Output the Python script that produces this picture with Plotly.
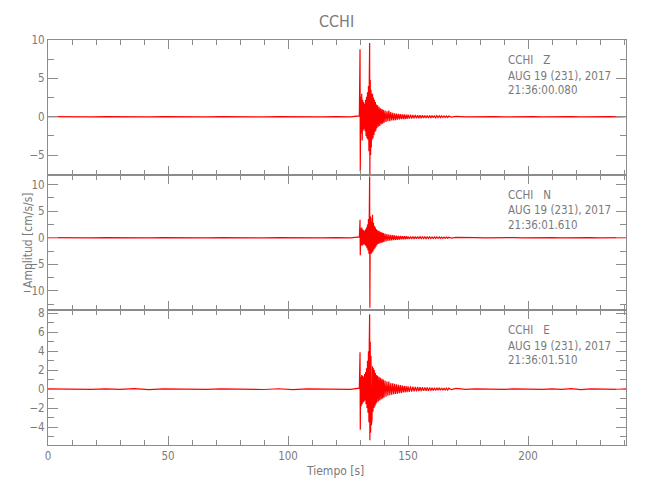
import plotly.graph_objects as go
from plotly.subplots import make_subplots

# ---- data ----
station = "CCHI"
components = ["Z", "N", "E"]
date_label = "AUG 19 (231), 2017"
start_times = ["21:36:00.080", "21:36:01.610", "21:36:01.510"]

t = [
    0, 6, 12, 18, 24, 30, 36, 42, 48, 54,
    60, 66, 72, 78, 84, 90, 96, 102, 108, 114,
    120, 126, 129.7, 130.0, 130.1, 130.3, 130.5, 130.7, 130.9, 131.1,
    131.3, 131.5, 131.7, 131.9, 132.1, 132.3, 132.5, 132.7, 132.9, 133.1,
    133.3, 133.5, 133.7, 133.85, 134.0, 134.1, 134.25, 134.4, 134.55, 134.7,
    134.85, 135.0, 135.2, 135.4, 135.6, 135.8, 136.0, 136.2, 136.4, 136.6,
    136.8, 137.0, 137.3, 137.6, 137.9, 138.2, 138.5, 138.8, 139.1, 139.4,
    139.7, 140.0, 140.4, 140.8, 141.2, 141.6, 142.0, 142.4, 142.8, 143.2,
    143.6, 144.0, 144.4, 144.8, 145.2, 145.6, 146.0, 146.4, 146.8, 147.2,
    147.6, 148.0, 148.4, 148.8, 149.2, 149.6, 150.0, 150.5, 151.0, 151.5,
    152.0, 152.5, 153.0, 153.5, 154.0, 154.5, 155.0, 155.5, 156.0, 156.5,
    157.0, 157.5, 158.0, 158.5, 159.0, 159.5, 160.0, 160.5, 161.0, 161.5,
    162.0, 162.5, 163.0, 163.5, 164.0, 164.5, 165.0, 165.5, 166.0, 166.5,
    167, 168, 170, 174, 178, 182, 186, 190, 194, 198,
    202, 206, 210, 214, 218, 222, 226, 230, 234, 238,
    240.8,
]

amp_z = [
    0.02, -0.02, 0.02, -0.02, 0.02, -0.02, 0.02, -0.02, 0.02, -0.02,
    0.02, -0.02, 0.02, -0.02, 0.02, -0.02, 0.02, -0.02, 0.02, -0.02,
    0.02, -0.02, 0.1, 8.8, -7.1, 2.6, -2.2, 3.0, -3.1, 2.2,
    -1.8, 1.9, -1.6, 1.7, -1.9, 2.2, -2.5, 2.6, -2.8, 3.2,
    -3.0, 4.0, -4.5, 5.0, 9.6, -7.5, 4.8, -5.0, 3.5, -4.0,
    3.0, -3.0, 3.0, -2.8, 2.5, -2.4, 2.2, -2.0, 1.9, -1.8,
    1.6, -1.5, 1.5, -1.3, 1.3, -1.2, 1.1, -1.0, 1.0, -0.9,
    0.9, -0.8, 0.8, -0.7, 0.7, -0.6, 0.8, -0.6, 0.6, -0.5,
    0.5, -0.5, 0.45, -0.45, 0.4, -0.4, 0.38, -0.35, 0.35, -0.33,
    0.32, -0.3, 0.3, -0.3, 0.28, -0.27, 0.26, -0.25, 0.25, -0.24,
    0.23, -0.22, 0.22, -0.21, 0.2, -0.2, 0.2, -0.19, 0.18, -0.18,
    0.17, -0.17, 0.16, -0.16, 0.15, -0.15, 0.15, -0.14, 0.14, -0.13,
    0.13, -0.12, 0.12, -0.12, 0.11, -0.11, 0.1, -0.1, 0.1, -0.1,
    0.08, -0.05, 0.03, -0.02, 0.02, -0.02, 0.02, -0.02, 0.02, -0.02,
    0.02, -0.02, 0.02, -0.02, 0.02, -0.02, 0.02, -0.02, 0.02, -0.02,
    0.02,
]

amp_n = [
    0.03, -0.03, 0.03, -0.03, 0.03, -0.03, 0.03, -0.03, 0.03, -0.03,
    0.03, -0.03, 0.03, -0.03, 0.03, -0.03, 0.03, -0.03, 0.03, -0.03,
    0.03, -0.03, 0.15, 3.4, -3.3, 1.8, -1.4, 1.9, -1.5, 1.6,
    -1.3, 1.4, -1.2, 1.3, -1.4, 1.6, -1.6, 1.9, -2.0, 2.5,
    -2.4, 3.5, -3.0, 7.0, 11.5, -13.2, 4.0, -3.5, 3.6, -3.0,
    3.0, -2.8, 4.3, -2.6, 2.8, -2.2, 2.2, -2.0, 1.9, -1.7,
    1.6, -1.4, 1.4, -1.2, 1.3, -1.1, 1.1, -1.0, 1.0, -0.9,
    0.9, -0.8, 0.8, -0.7, 0.7, -0.6, 0.6, -0.55, 0.55, -0.5,
    0.5, -0.45, 0.45, -0.4, 0.4, -0.38, 0.36, -0.35, 0.34, -0.32,
    0.3, -0.3, 0.3, -0.28, 0.28, -0.26, 0.25, -0.25, 0.24, -0.23,
    0.22, -0.22, 0.21, -0.2, 0.2, -0.2, 0.19, -0.18, 0.18, -0.18,
    0.17, -0.17, 0.16, -0.16, 0.16, -0.15, 0.15, -0.15, 0.14, -0.14,
    0.14, -0.13, 0.13, -0.13, 0.12, -0.12, 0.12, -0.11, 0.11, -0.11,
    0.1, -0.07, 0.05, -0.03, 0.03, -0.03, 0.03, -0.03, 0.03, -0.03,
    0.03, -0.03, 0.03, -0.03, 0.03, -0.03, 0.03, -0.03, 0.03, -0.03,
    0.03,
]

amp_e = [
    0.02, -0.02, 0.02, -0.02, 0.02, -0.02, 0.05, -0.05, 0.02, -0.02,
    0.02, -0.02, 0.02, -0.02, 0.02, -0.04, 0.04, -0.05, 0.02, -0.02,
    0.02, -0.02, 0.1, 3.9, -4.3, 1.3, -1.8, 1.5, -1.6, 1.4,
    -1.4, 1.3, -1.3, 1.6, -1.2, 1.8, -1.6, 2.2, -2.0, 3.0,
    -2.5, 4.0, -3.5, 5.0, 7.9, -5.4, 5.0, -4.6, 3.5, -3.8,
    2.8, -3.2, 2.4, -2.4, 2.2, -2.0, 2.0, -1.8, 1.7, -1.6,
    1.5, -1.4, 1.4, -1.3, 1.3, -1.2, 1.2, -1.1, 1.1, -1.0,
    1.0, -0.9, 0.9, -0.8, 0.8, -0.7, 0.8, -0.65, 0.65, -0.6,
    0.6, -0.55, 0.55, -0.5, 0.5, -0.48, 0.46, -0.44, 0.42, -0.4,
    0.38, -0.36, 0.35, -0.34, 0.33, -0.32, 0.3, -0.3, 0.28, -0.27,
    0.26, -0.25, 0.24, -0.23, 0.22, -0.22, 0.21, -0.2, 0.2, -0.19,
    0.18, -0.18, 0.17, -0.17, 0.16, -0.16, 0.15, -0.15, 0.14, -0.14,
    0.14, -0.13, 0.13, -0.12, 0.12, -0.12, 0.11, -0.11, 0.11, -0.1,
    0.1, -0.06, 0.07, -0.03, 0.02, -0.02, 0.02, -0.02, 0.02, -0.02,
    0.02, -0.02, 0.02, -0.02, 0.06, -0.05, 0.02, -0.02, 0.02, -0.02,
    0.02,
]

y_ranges = [[-7.6, 10], [-13.6, 11.8], [-5.9, 8.35]]
y_dticks = [5, 5, 2]
y_minor = [2.5, 2.5, 1]
x_range = [0, 240.8]

# ---- figure ----
GRAY = "#8c8c8c"
TXT = "#7a7a7a"
FONT = "DejaVu Sans Condensed, Liberation Sans Narrow, Liberation Sans, sans-serif"

fig = make_subplots(rows=3, cols=1, shared_xaxes=True, vertical_spacing=0)
for i, amp in enumerate([amp_z, amp_n, amp_e]):
    assert len(amp) == len(t)
    fig.add_trace(go.Scatter(x=t, y=amp, mode="lines",
                             line=dict(color="#ff0000", width=1.2),
                             hoverinfo="skip", showlegend=False),
                  row=i + 1, col=1)

for i in range(3):
    fig.update_xaxes(range=x_range, showline=True, linecolor=GRAY, linewidth=1,
                     mirror="allticks", ticks="inside", ticklen=9, tickcolor=GRAY,
                     tickmode="linear", tick0=0, dtick=50,
                     minor=dict(ticks="inside", ticklen=5, dtick=10, tick0=0, tickcolor=GRAY),
                     showgrid=False, zeroline=False,
                     tickfont=dict(family=FONT, size=11.5, color=TXT),
                     row=i + 1, col=1)
    fig.update_yaxes(range=y_ranges[i], showline=True, linecolor=GRAY, linewidth=1,
                     mirror="allticks", ticks="inside", ticklen=10, tickcolor=GRAY,
                     tickmode="linear", tick0=0, dtick=y_dticks[i],
                     minor=dict(ticks="inside", ticklen=6, dtick=y_minor[i], tick0=0, tickcolor=GRAY),
                     showgrid=False, zeroline=False,
                     tickfont=dict(family=FONT, size=11.5, color=TXT),
                     row=i + 1, col=1)

ML, MR, MT, MB = 48, 24, 40, 55
W, H = 650, 500
PH = H - MT - MB
PW = W - ML - MR


def py(px):
    return (H - MB - px) / PH


def pxx(px):
    return (px - ML) / PW


anns = []
panel_tops = [MT, MT + PH / 3, MT + 2 * PH / 3]
for i in range(3):
    lines = [station + "\u00a0\u00a0\u00a0" + components[i], date_label, start_times[i]]
    for j, off in enumerate([20.3, 35.5, 50]):
        anns.append(dict(x=pxx(506), y=py(panel_tops[i] + off), xref="paper", yref="paper",
                         text=lines[j], showarrow=False, xanchor="left", yanchor="middle",
                         font=dict(family=FONT, size=11.5, color=TXT)))

anns.append(dict(x=pxx(28), y=py(240), xref="paper", yref="paper", text="Amplitud [cm/s/s]",
                 textangle=-90, showarrow=False, xanchor="center", yanchor="middle",
                 font=dict(family=FONT, size=12, color=TXT)))
anns.append(dict(x=pxx(335), y=py(471), xref="paper", yref="paper", text="Tiempo [s]",
                 showarrow=False, xanchor="center", yanchor="middle",
                 font=dict(family=FONT, size=12, color=TXT)))
anns.append(dict(x=pxx(336), y=py(21.5), xref="paper", yref="paper", text=station,
                 showarrow=False, xanchor="center", yanchor="middle",
                 font=dict(family=FONT, size=16, color=TXT)))

fig.update_layout(width=W, height=H, margin=dict(l=ML, r=MR, t=MT, b=MB),
                  paper_bgcolor="white", plot_bgcolor="white", annotations=anns,
                  showlegend=False)

fig.write_html("out.html", config={"displayModeBar": False},
               post_script="document.body.style.margin='0';")
